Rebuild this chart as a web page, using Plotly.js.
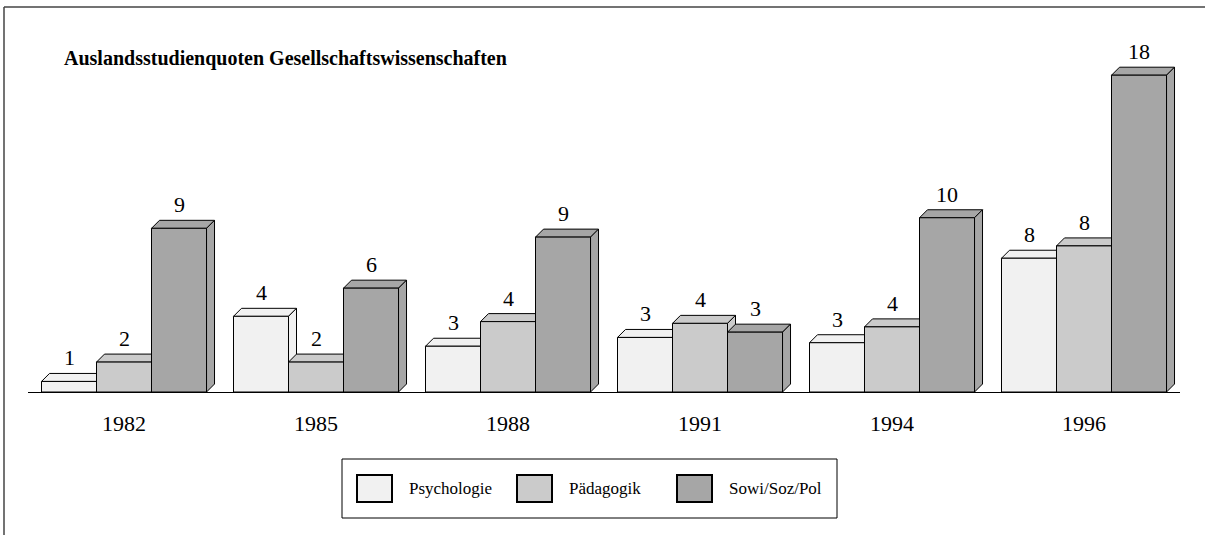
<!DOCTYPE html>
<html>
<head>
<meta charset="utf-8">
<script src="https://cdn.plot.ly/plotly-3.0.1.min.js"></script>
<style>
  body { margin: 0; background: #fff; }
  #chart { width: 1205px; height: 535px; }
</style>
</head>
<body>
<div id="chart"></div>
<script>
// data
var years = ['1982', '1985', '1988', '1991', '1994', '1996'];
var seriesNames = ['Psychologie', 'Pädagogik', 'Sowi/Soz/Pol'];
var psychologie = [0.6, 4.3, 2.6, 3.1, 2.8, 7.6];
var paedagogik = [1.7, 1.7, 4.0, 3.9, 3.7, 8.3];
var sowi = [9.3, 5.9, 8.8, 3.4, 9.9, 18.0];
var labels = [
    [1, 4, 3, 3, 3, 8],
    [2, 2, 4, 4, 4, 8],
    [9, 6, 9, 3, 10, 18]
];
var colors = ['#f1f1f1', '#cbcbcb', '#a6a6a6'];

// layout in pixels
var W = 1205, H = 535;
var mL = 28, mR = 25, mT = 40, mB = 143;
var plotW = W - mL - mR, plotH = H - mT - mB;
var yMax = 20;
var barW = 0.2865;
var groupStart = -0.4297;
var depthPx = 8;
var dX = depthPx / (plotW / years.length);
var dY = depthPx / (plotH / yMax);

function px(x){ return (x - mL) / plotW; }
function py(y){ return (H - mB - y) / plotH; }

var allValues = [psychologie, paedagogik, sowi];
var xs = years.map(function(y, i){ return i; });

var traces = [];
var shapes = [];
var annotations = [];

for (var s = 0; s < 3; s++) {
    traces.push({
        type: 'bar',
        name: seriesNames[s],
        x: xs,
        y: allValues[s],
        width: barW,
        offset: groupStart + s * barW,
        marker: {color: colors[s], line: {color: '#000', width: 1}},
        hoverinfo: 'x+y',
        showlegend: false
    });
}

// 3d top and side faces, drawn below the fronts, group by group
for (var i = 0; i < years.length; i++) {
    for (var s = 0; s < 3; s++) {
        var v = allValues[s][i];
        var x0 = i + groupStart + s * barW;
        var x1 = x0 + barW;
        shapes.push({
            type: 'path', layer: 'below', xref: 'x', yref: 'y',
            path: 'M' + x0 + ',' + v + ' L' + (x0 + dX) + ',' + (v + dY) +
                  ' L' + (x1 + dX) + ',' + (v + dY) + ' L' + x1 + ',' + v + ' Z',
            fillcolor: colors[s], line: {color: '#000', width: 1}
        });
        shapes.push({
            type: 'path', layer: 'below', xref: 'x', yref: 'y',
            path: 'M' + x1 + ',' + v + ' L' + (x1 + dX) + ',' + (v + dY) +
                  ' L' + (x1 + dX) + ',' + dY + ' L' + x1 + ',0 Z',
            fillcolor: colors[s], line: {color: '#000', width: 1}
        });
        annotations.push({
            x: x0 + barW / 2, y: v, xref: 'x', yref: 'y',
            text: String(labels[s][i]), showarrow: false,
            yanchor: 'bottom', yshift: depthPx + 1,
            font: {size: 22, color: '#000'}
        });
    }
}

// frame of the figure
shapes.push({type: 'line', xref: 'paper', yref: 'paper',
    x0: px(4), x1: px(W), y0: py(7), y1: py(7), line: {color: '#444', width: 1.5}});
shapes.push({type: 'line', xref: 'paper', yref: 'paper',
    x0: px(4), x1: px(4), y0: py(7), y1: py(H), line: {color: '#444', width: 1.5}});

// legend box
shapes.push({type: 'rect', xref: 'paper', yref: 'paper',
    x0: px(342), x1: px(837), y0: py(459), y1: py(518),
    fillcolor: '#fff', line: {color: '#000', width: 1}});
for (var s = 0; s < 3; s++) {
    shapes.push({type: 'rect', xref: 'paper', yref: 'paper',
        x0: px(357 + 160 * s), x1: px(392 + 160 * s), y0: py(475), y1: py(502),
        fillcolor: colors[s], line: {color: '#000', width: 2}});
    annotations.push({
        x: px(407 + 160 * s), y: py(488), xref: 'paper', yref: 'paper',
        xanchor: 'left', yanchor: 'middle', showarrow: false,
        text: seriesNames[s], font: {size: 17, color: '#000'}
    });
}

// title
annotations.push({
    x: px(62), y: py(58), xref: 'paper', yref: 'paper',
    xanchor: 'left', yanchor: 'middle', showarrow: false,
    text: '<b>Auslandsstudienquoten Gesellschaftswissenschaften</b>',
    font: {size: 20, color: '#000'}
});

var layout = {
    width: W, height: H,
    margin: {l: mL, r: mR, t: mT, b: mB, pad: 0},
    paper_bgcolor: '#fff', plot_bgcolor: 'rgba(0,0,0,0)',
    font: {family: '"Liberation Serif", "Times New Roman", serif', color: '#000'},
    showlegend: false,
    barmode: 'overlay',
    xaxis: {
        range: [-0.5, years.length - 0.5],
        tickvals: xs, ticktext: years,
        tickfont: {size: 22},
        ticks: '', ticklabelstandoff: 12,
        showline: true, linecolor: '#000', linewidth: 1,
        showgrid: false, zeroline: false, fixedrange: true
    },
    yaxis: {
        range: [0, yMax],
        showticklabels: false, showgrid: false, zeroline: false,
        showline: false, fixedrange: true
    },
    shapes: shapes,
    annotations: annotations
};

Plotly.newPlot('chart', traces, layout, {displayModeBar: false, staticPlot: true});
</script>
</body>
</html>
